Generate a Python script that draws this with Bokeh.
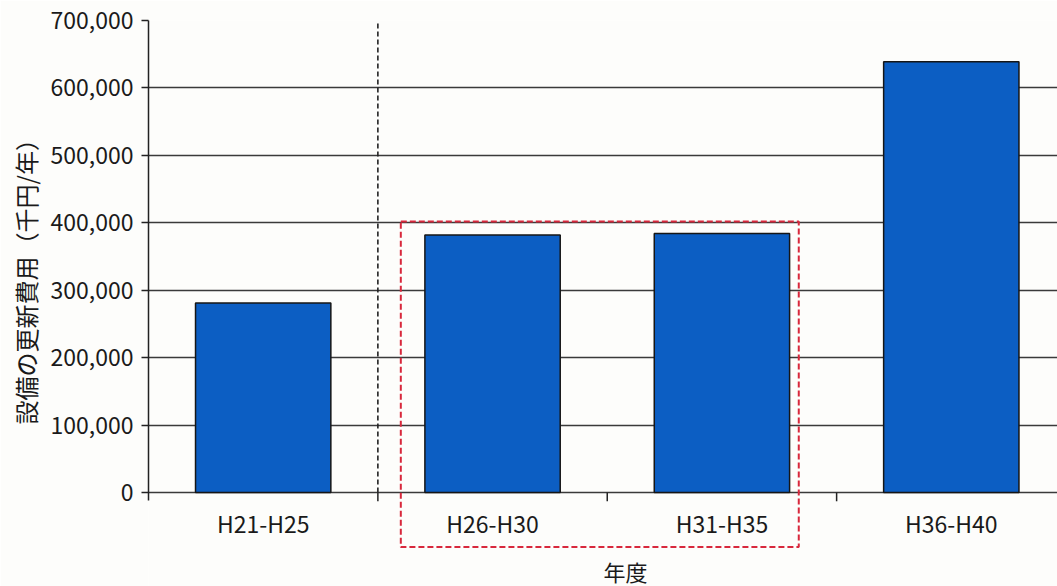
from bokeh.plotting import figure
from bokeh.models import (ColumnDataSource, FixedTicker, NumeralTickFormatter,
                          Range1d, Title)
from bokeh.core.properties import value
from bokeh.embed import file_html
from bokeh.resources import INLINE

# 年度区分ごとの設備更新費用(千円/年)
periods = ["H21-H25", "H26-H30", "H31-H35", "H36-H40"]
costs = [281000, 382000, 384000, 639000]
y_ticks = [0, 100000, 200000, 300000, 400000, 500000, 600000, 700000]
x_title = "年度"
y_title = "設備の更新費用（千円/年）"

# 実績と計画の境目、および強調する期間の枠
divider_x = 0.5
focus_left, focus_right = 0.6, 2.335
focus_top, focus_bottom = 402000, -81000

FONT = "Noto Sans CJK JP"
BG = "#fdfdfb"
INK = "#1a1a1a"

idx = list(range(len(periods)))
src = ColumnDataSource(dict(x=idx, top=costs))

# 枠を下端まで広げ、横軸は0の位置に描く
p = figure(width=1057, height=586, output_backend="svg", toolbar_location=None,
           x_range=Range1d(-0.5, 3.463), y_range=Range1d(-139400, 700000),
           min_border_left=148, min_border_top=20, min_border_right=0,
           min_border_bottom=0)
p.background_fill_color = BG
p.border_fill_color = BG
p.outline_line_color = None

p.vbar(x="x", top="top", width=0.59, source=src,
       fill_color="#0c5ec3", line_color="#161616", line_width=1.5)

# 縦軸
yax = p.yaxis[0]
yax.ticker = FixedTicker(ticks=y_ticks)
yax.formatter = NumeralTickFormatter(format="0,0")
yax.bounds = (-12000, 700000)
yax.major_label_text_font = FONT
yax.major_label_text_font_size = "23px"
yax.major_label_text_color = INK
yax.major_label_standoff = 8
yax.major_tick_in = 0
yax.major_tick_out = 7
yax.major_tick_line_color = "#222222"
yax.major_tick_line_width = 1.5
yax.minor_tick_line_color = None
yax.axis_line_color = "#222222"
yax.axis_line_width = 1.5

# 縦軸の軸名(0〜700,000の範囲の中央に置く)
p.add_layout(Title(text=y_title, align="left", offset=162,
                   text_font=FONT, text_font_size="24px",
                   text_font_style="normal", text_color=INK,
                   standoff=10), "left")

p.xaxis.visible = False
p.xgrid.grid_line_color = None
p.ygrid.ticker = FixedTicker(ticks=y_ticks)
p.ygrid.grid_line_color = "#3a3a3a"
p.ygrid.grid_line_width = 1.6

# 横軸の目盛(区分の境目)
bounds = [0.5, 1.5, 2.5]
p.segment(x0=bounds, x1=bounds, y0=[0] * 3, y1=[-13000] * 3,
          line_color="#222222", line_width=1.5)

# 横軸の区分名と軸名
p.text(x=idx, y=[-45000] * len(idx), text=periods,
       text_font=value(FONT), text_font_size="23px", text_color=INK,
       text_align="center", text_baseline="middle")
p.text(x=[1.58], y=[-117000], text=[x_title],
       text_font=value(FONT), text_font_size="22px", text_color=INK,
       text_align="center", text_baseline="middle")

# 区切りの破線
p.segment(x0=[divider_x], x1=[divider_x], y0=[0], y1=[700000],
          line_color="#222222", line_width=1.6, line_dash="5 3")

# 強調枠(赤破線)
p.quad(left=[focus_left], right=[focus_right], top=[focus_top],
       bottom=[focus_bottom], fill_color=None,
       line_color="#d8283c", line_width=2, line_dash="6 3")

open("out.html", "w").write(file_html(p, INLINE))
